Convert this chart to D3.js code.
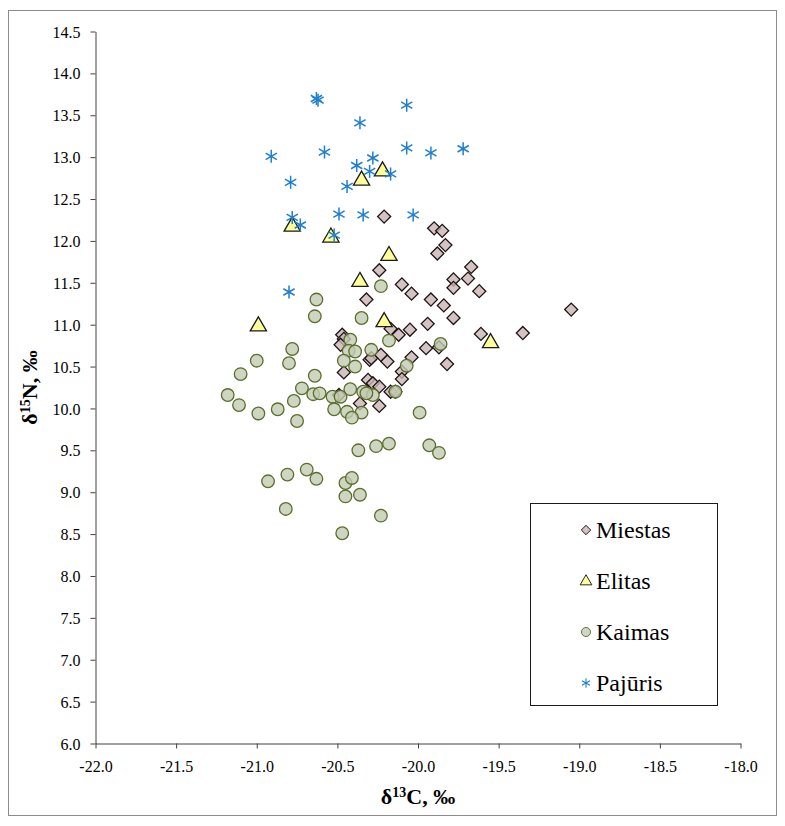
<!DOCTYPE html>
<html>
<head>
<meta charset="utf-8">
<script src="https://cdn.jsdelivr.net/npm/d3@7/dist/d3.min.js"></script>
<style>
  html, body { margin: 0; padding: 0; background: #fff; }
  svg { display: block; }
  text { font-family: "Liberation Serif", "Times New Roman", serif; }
  .axis text { font-family: "Liberation Serif", "Times New Roman", serif !important; font-size: 16px !important; fill: #000; }
</style>
</head>
<body>
<svg id="chart" width="785" height="826"></svg>
<script>
// δ13C / δ15N values per group: [δ13C, δ15N]
const miestas = [
  [-20.21, 12.29], [-19.90, 12.15], [-19.85, 12.12], [-19.83, 11.95], [-19.88, 11.85],
  [-19.67, 11.69], [-20.24, 11.65], [-19.78, 11.54], [-19.69, 11.55], [-19.78, 11.44],
  [-19.62, 11.40], [-20.10, 11.48], [-20.04, 11.37], [-19.92, 11.30], [-20.32, 11.30],
  [-19.84, 11.23], [-19.78, 11.08], [-19.05, 11.18], [-19.94, 11.01], [-20.17, 10.95],
  [-20.12, 10.88], [-20.05, 10.94], [-19.61, 10.89], [-19.35, 10.90], [-19.95, 10.72],
  [-19.87, 10.73], [-20.04, 10.61], [-20.23, 10.64], [-20.19, 10.56], [-19.82, 10.53],
  [-20.10, 10.44], [-20.10, 10.35], [-20.17, 10.20], [-20.14, 10.20], [-20.24, 10.03],
  [-20.47, 10.88], [-20.46, 10.83], [-20.48, 10.76], [-20.30, 10.58], [-20.29, 10.60],
  [-20.46, 10.43], [-20.31, 10.34], [-20.28, 10.30], [-20.24, 10.26], [-20.49, 10.16],
  [-20.36, 10.06]
];
const elitas = [
  [-20.22, 12.84], [-20.35, 12.73], [-20.78, 12.18], [-20.54, 12.05], [-20.18, 11.83],
  [-20.36, 11.52], [-20.99, 10.99], [-20.21, 11.04], [-19.55, 10.79]
];
const kaimas = [
  [-20.23, 11.46], [-20.63, 11.30], [-20.64, 11.10], [-20.35, 11.08], [-20.78, 10.71],
  [-20.42, 10.82], [-20.18, 10.81], [-20.43, 10.69], [-20.39, 10.68], [-20.29, 10.70],
  [-21.00, 10.57], [-20.80, 10.54], [-20.46, 10.57], [-20.39, 10.50], [-21.10, 10.41],
  [-20.64, 10.39], [-21.18, 10.16], [-20.72, 10.24], [-20.65, 10.17], [-20.61, 10.18],
  [-20.53, 10.14], [-20.48, 10.14], [-20.42, 10.23], [-20.34, 10.20], [-20.28, 10.16],
  [-21.11, 10.04], [-20.77, 10.09], [-20.52, 9.99], [-20.44, 9.96], [-20.35, 9.95],
  [-20.99, 9.94], [-20.87, 9.99], [-20.75, 9.85], [-20.41, 9.89], [-20.37, 9.50],
  [-20.26, 9.55], [-20.18, 9.58], [-20.93, 9.13], [-20.81, 9.21], [-20.69, 9.27],
  [-20.63, 9.16], [-20.45, 9.11], [-20.41, 9.17], [-20.45, 8.95], [-20.36, 8.97],
  [-20.82, 8.80], [-20.23, 8.72], [-20.47, 8.51], [-19.99, 9.95], [-19.93, 9.56],
  [-19.87, 9.47], [-19.86, 10.77], [-20.07, 10.51], [-20.14, 10.20], [-20.32, 10.18]
];
const pajuris = [
  [-20.63, 13.70], [-20.62, 13.68], [-20.07, 13.62], [-20.36, 13.41], [-20.91, 13.01],
  [-20.58, 13.06], [-20.07, 13.11], [-19.92, 13.05], [-19.72, 13.10], [-20.28, 12.99],
  [-20.38, 12.90], [-20.30, 12.83], [-20.17, 12.80], [-20.79, 12.70], [-20.44, 12.65],
  [-20.49, 12.32], [-20.34, 12.31], [-20.03, 12.31], [-20.78, 12.28], [-20.73, 12.19],
  [-20.52, 12.07], [-20.80, 11.39]
];
const seriesNames = ["Miestas", "Elitas", "Kaimas", "Pajūris"];
const xTicks = d3.range(-22, -17.99, 0.5);
const yTicks = d3.range(6, 14.51, 0.5);

const svg = d3.select("#chart");
const plot = { left: 95.5, right: 740.5, top: 31.5, bottom: 743.5 };

// outer chart frame
svg.append("rect")
  .attr("x", 8.5).attr("y", 10.5).attr("width", 768).attr("height", 805)
  .attr("fill", "none").attr("stroke", "#8c8c8c").attr("stroke-width", 1);

const x = d3.scaleLinear().domain([-22, -18]).range([plot.left, plot.right]);
const y = d3.scaleLinear().domain([6, 14.5]).range([plot.bottom, plot.top]);

const fmt = d => d.toFixed(1);

const xAxis = svg.append("g").attr("class", "axis")
  .attr("transform", `translate(0,${plot.bottom})`)
  .call(d3.axisBottom(x).tickValues(xTicks).tickFormat(fmt).tickSize(5).tickSizeOuter(0));
const yAxis = svg.append("g").attr("class", "axis")
  .attr("transform", `translate(${plot.left},0)`)
  .call(d3.axisLeft(y).tickValues(yTicks).tickFormat(fmt).tickSize(5).tickSizeOuter(0));

[xAxis, yAxis].forEach(g => {
  g.attr("font-family", "Liberation Serif").attr("font-size", 16);
  g.select(".domain").attr("stroke", "#404040");
  g.selectAll(".tick line").attr("stroke", "#404040");
});
xAxis.selectAll("text").attr("y", 28.5).attr("dy", 0);
yAxis.selectAll("text").attr("x", -15).attr("dy", "0.35em");

// axis titles
const xt = svg.append("text")
  .attr("x", (plot.left + plot.right) / 2).attr("y", 804)
  .attr("text-anchor", "middle")
  .style("font-size", "22px").style("font-weight", "bold");
xt.append("tspan").text("δ");
xt.append("tspan").attr("baseline-shift", "super").style("font-size", "14px").text("13");
xt.append("tspan").text("C, ‰");

const yt = svg.append("text")
  .attr("transform", `translate(37,${(plot.top + plot.bottom) / 2}) rotate(-90)`)
  .attr("text-anchor", "middle")
  .style("font-size", "22px").style("font-weight", "bold");
yt.append("tspan").text("δ");
yt.append("tspan").attr("baseline-shift", "super").style("font-size", "14px").text("15");
yt.append("tspan").text("N, ‰");

// marker shapes
const diamond = d3.symbol().type(d3.symbolSquare).size(85)();
const triangle = s => `M0,${-s * 0.62}L${s * 0.58},${s * 0.38}L${-s * 0.58},${s * 0.38}Z`;
const star = r => {
  const a = r * 0.866, b = r * 0.5;
  return `M0,${-r}L0,${r}M${-a},${-b}L${a},${b}M${-a},${b}L${a},${-b}`;
};

const styles = {
  Miestas: g => g.append("path").attr("d", diamond).attr("transform", "rotate(45)")
    .attr("fill", "#c8b4b4").attr("fill-opacity", 0.8)
    .attr("stroke", "#1e1414").attr("stroke-width", 1.3),
  Elitas: g => g.append("path").attr("d", triangle(14))
    .attr("fill", "#ffff99").attr("stroke", "#1a1a1a").attr("stroke-width", 1.3),
  Kaimas: g => g.append("circle").attr("r", 6.3)
    .attr("fill", "#c2cbb0").attr("fill-opacity", 0.8)
    .attr("stroke", "#5a6e2c").attr("stroke-width", 1.3),
  "Pajūris": g => g.append("path").attr("d", star(6.5))
    .attr("fill", "none").attr("stroke", "#1f7fd0").attr("stroke-width", 1.5)
};

const allSeries = [miestas, elitas, kaimas, pajuris];
allSeries.forEach((data, i) => {
  const name = seriesNames[i];
  svg.append("g").attr("class", "series")
    .selectAll("g").data(data).join("g")
    .attr("transform", d => `translate(${x(d[0])},${y(d[1])})`)
    .each(function () { styles[name](d3.select(this)); });
});

// legend
const legend = svg.append("g");
legend.append("rect")
  .attr("x", 530.5).attr("y", 503.5).attr("width", 187).attr("height", 202)
  .attr("fill", "#fff").attr("stroke", "#1a1a1a").attr("stroke-width", 1);
seriesNames.forEach((name, i) => {
  const cy = 530 + i * 51;
  const item = legend.append("g").attr("transform", `translate(586,${cy})`);
  const mark = item.append("g").attr("transform", "scale(0.72)");
  styles[name](mark);
  legend.append("text")
    .attr("x", 596).attr("y", cy).attr("dy", "0.35em")
    .style("font-size", "24px").attr("fill", "#000")
    .text(name);
});
</script>
</body>
</html>
